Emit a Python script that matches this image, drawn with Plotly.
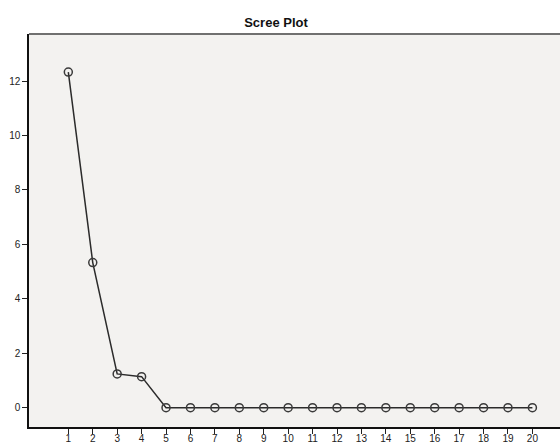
import plotly.graph_objects as go

components = list(range(1, 21))
eigenvalues = [12.33, 5.33, 1.24, 1.14] + [0.0] * 16
y_ticks = [0, 2, 4, 6, 8, 10, 12]

fig = go.Figure()
fig.add_trace(go.Scatter(
    x=components, y=eigenvalues, mode="lines+markers",
    line=dict(color="#2b2b2b", width=1.5),
    marker=dict(symbol="circle-open", size=8, color="#3a3a3a", line=dict(width=1.5)),
    showlegend=False, cliponaxis=False,
))
fig.update_layout(
    width=560, height=444,
    margin=dict(l=29, r=0, t=34, b=17),
    paper_bgcolor="white", plot_bgcolor="#f3f2f0",
    font=dict(family="Liberation Sans, Arial, sans-serif", size=10, color="#222"),
    title=dict(text="<b>Scree Plot</b>", x=276/560, xanchor="center", y=1-22/444, yanchor="middle",
               font=dict(size=13, color="#111")),
    xaxis=dict(range=[-0.61, 21.13], tickvals=components, ticks="outside", ticklen=5,
               tickcolor="#222", showgrid=False, zeroline=False, showline=True,
               linecolor="#111", linewidth=1.5, fixedrange=True, automargin=False,
               ticklabelstandoff=-4),
    yaxis=dict(range=[-0.71, 13.73], tickvals=y_ticks, ticks="outside", ticklen=5,
               tickcolor="#222", showgrid=False, zeroline=False, showline=True,
               linecolor="#111", linewidth=1.5, fixedrange=True, automargin=False),
    shapes=[dict(type="line", xref="paper", yref="paper", x0=0, x1=1, y0=1, y1=1,
                 line=dict(color="#707070", width=2))],
)
fig.write_html("out.html", config={"displayModeBar": False},
               post_script="document.body.style.margin='0';document.body.style.overflow='hidden';")
